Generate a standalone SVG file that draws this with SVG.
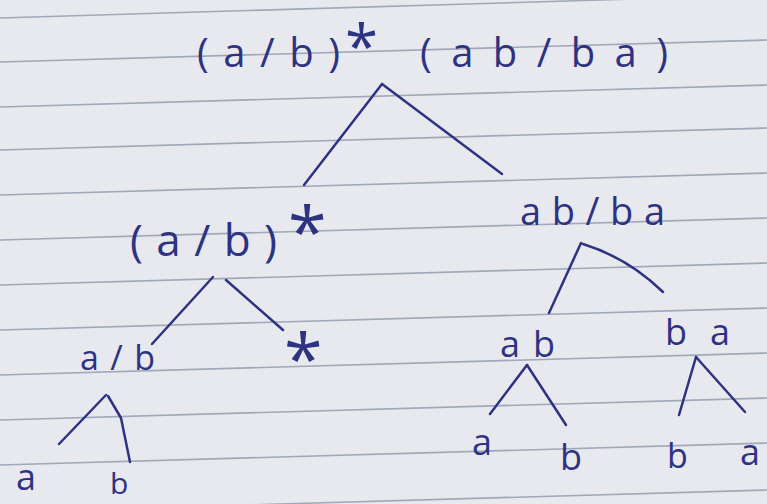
<svg xmlns="http://www.w3.org/2000/svg" width="767" height="504" viewBox="0 0 767 504">
<style>
.rule{stroke:#a0a7b9;stroke-width:1.6;fill:none}
.ink{fill:#2d3382;font-family:"Open Sans","DejaVu Sans",sans-serif}
.edge{stroke:#2d3382;stroke-width:2.5;fill:none;stroke-linecap:round;stroke-linejoin:round}
</style>
<rect width="767" height="504" fill="#e8e9ee"/>
<g id="paper-rules">
<line class="rule" x1="0" y1="18" x2="767" y2="-5"/>
<line class="rule" x1="0" y1="62" x2="767" y2="40"/>
<line class="rule" x1="0" y1="107" x2="767" y2="85"/>
<line class="rule" x1="0" y1="150" x2="767" y2="128"/>
<line class="rule" x1="0" y1="195" x2="767" y2="173"/>
<line class="rule" x1="0" y1="240" x2="767" y2="218"/>
<line class="rule" x1="0" y1="285" x2="767" y2="263"/>
<line class="rule" x1="0" y1="330" x2="767" y2="308"/>
<line class="rule" x1="0" y1="375" x2="767" y2="353"/>
<line class="rule" x1="0" y1="420" x2="767" y2="398"/>
<line class="rule" x1="0" y1="465" x2="767" y2="443"/>
<line class="rule" x1="0" y1="512" x2="767" y2="490"/>
</g>
<g id="connectors">
<path class="edge" d="M382,84 L304,185"/>
<path class="edge" d="M382,84 L502,174"/>
<path class="edge" d="M213,277 L152,344"/>
<path class="edge" d="M226,280 L283,330"/>
<path class="edge" d="M106,395 L59,444"/>
<path class="edge" d="M108,396 L121,418 L130,462"/>
<path class="edge" d="M581,243 L549,313"/>
<path class="edge" d="M583,244 Q628,258 663,292"/>
<path class="edge" d="M527,365 L490,414"/>
<path class="edge" d="M527,365 L566,425"/>
<path class="edge" d="M696,357 L679,415"/>
<path class="edge" d="M696,357 L745,412"/>
</g>
<g id="node-root">
<text class="ink" x="197" y="67" font-size="40" textLength="143" lengthAdjust="spacing">(a/b)</text>
<text class="ink" x="345" y="68" font-size="60">*</text>
<text class="ink" x="420" y="67" font-size="40" textLength="248" lengthAdjust="spacing">(ab/ba)</text>
</g>
<g id="node-star-ab">
<text class="ink" x="130" y="256" font-size="44" textLength="147" lengthAdjust="spacing">(a/b)</text>
<text class="ink" x="288" y="257" font-size="70">*</text>
</g>
<g id="node-ab-or-ba">
<text class="ink" x="520" y="225" font-size="38" textLength="145" lengthAdjust="spacing">ab/ba</text>
</g>
<g id="node-a-or-b">
<text class="ink" x="80" y="370" font-size="34" textLength="75" lengthAdjust="spacing">a/b</text>
</g>
<g id="node-star">
<text class="ink" x="284" y="384" font-size="70">*</text>
</g>
<g id="node-ab">
<text class="ink" x="500" y="357" font-size="36" textLength="55" lengthAdjust="spacing">ab</text>
</g>
<g id="node-ba">
<text class="ink" x="665" y="345" font-size="36" textLength="65" lengthAdjust="spacing">ba</text>
</g>
<g id="leaf-a1"><text class="ink" x="16" y="490" font-size="36">a</text></g>
<g id="leaf-b1"><text class="ink" x="110" y="494" font-size="30">b</text></g>
<g id="leaf-a2"><text class="ink" x="472" y="455" font-size="36">a</text></g>
<g id="leaf-b2"><text class="ink" x="560" y="470" font-size="36">b</text></g>
<g id="leaf-b3"><text class="ink" x="667" y="468" font-size="34">b</text></g>
<g id="leaf-a3"><text class="ink" x="740" y="465" font-size="36">a</text></g>
</svg>
